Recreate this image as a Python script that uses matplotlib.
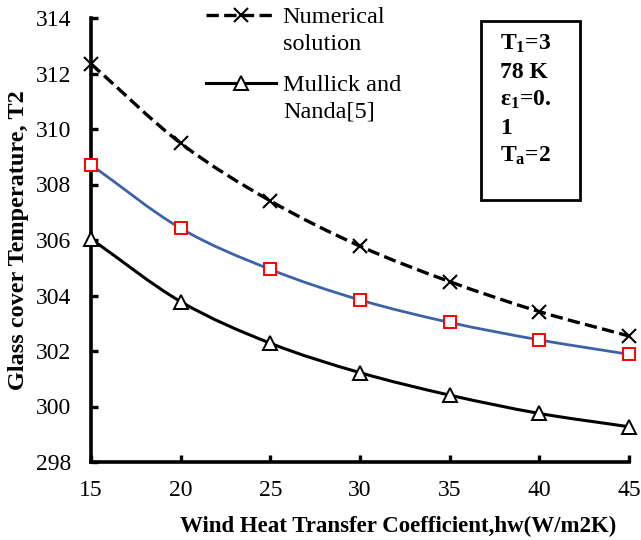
import numpy as np
import matplotlib
matplotlib.use("Agg")
import matplotlib.pyplot as plt
from matplotlib.path import Path
from matplotlib.patches import PathPatch, Rectangle
from matplotlib.lines import Line2D

plt.rcParams['font.family'] = ['Liberation Serif', 'DejaVu Serif']
plt.rcParams['mathtext.fontset'] = 'custom'
plt.rcParams['mathtext.rm'] = 'Liberation Serif'
plt.rcParams['mathtext.bf'] = 'Liberation Serif:bold'
plt.rcParams['mathtext.it'] = 'Liberation Serif:italic'

# Donnees
wind_hw = [15, 20, 25, 30, 35, 40, 45]
t2_numerical = [312.35, 309.49, 307.41, 305.78, 304.50, 303.42, 302.54]
t2_model = [308.71, 306.42, 304.94, 303.84, 303.03, 302.40, 301.88]
t2_mullick = [306.04, 303.78, 302.28, 301.22, 300.41, 299.75, 299.27]

x_ticks = [15, 20, 25, 30, 35, 40, 45]
y_ticks = [298, 300, 302, 304, 306, 308, 310, 312, 314]

# libelles de legende (premiere ligne / suite)
legend_first = ["Numerical", "Mullick and"]
legend_second = ["solution", "Nanda[5]"]
box_lines = [r"T$_{\mathbf{1}}$=3", "78 K", r"ε$_{\mathbf{1}}$=0.", "1", r"T$_{\mathbf{a}}$=2"]


def smooth_path(x, y):
    """Courbe lissee facon Excel (Bezier passant par les points)."""
    pts = np.column_stack([x, y]).astype(float)
    n = len(pts)
    verts = [pts[0]]
    codes = [Path.MOVETO]
    for i in range(n - 1):
        p0 = pts[i - 1] if i > 0 else pts[i]
        p1 = pts[i]
        p2 = pts[i + 1]
        p3 = pts[i + 2] if i + 2 < n else pts[i + 1]
        f0 = 6.0 if i > 0 else 3.0
        f1 = 6.0 if i + 2 < n else 3.0
        c1 = p1 + (p2 - p0) / f0
        c2 = p2 - (p3 - p1) / f1
        verts += [c1, c2, p2]
        codes += [Path.CURVE4] * 3
    return Path(verts, codes)


fig = plt.figure(figsize=(6.41, 5.40), dpi=100)
ax = fig.add_axes([91 / 641, 78 / 540, 538 / 641, 444 / 540])

series = [
    (t2_model, dict(color='#3d62a6', lw=2.0, ls='-'),
     dict(marker='s', ms=8, mfc='white', mec='#ff0000', mew=1.4)),
    (t2_numerical, dict(color='black', lw=2.4, ls='--'),
     dict(marker='x', ms=10, mec='black', mew=1.5)),
    (t2_mullick, dict(color='black', lw=2.2, ls='-'),
     dict(marker='^', ms=10.5, mfc='white', mec='black', mew=1.4)),
]

for ys, line_kw, mark_kw in series:
    patch = PathPatch(smooth_path(wind_hw, ys), fill=False, edgecolor=line_kw['color'],
                      lw=line_kw['lw'], ls=line_kw['ls'], capstyle='butt', zorder=2)
    ax.add_patch(patch)
    ax.plot(wind_hw, ys, ls='none', zorder=3, clip_on=False, **mark_kw)

ax.set_xlim(15, 45)
ax.set_ylim(298, 314)
ax.set_xticks(x_ticks)
ax.set_yticks(y_ticks)
ax.tick_params(direction='in', length=5, width=2.4, labelsize=17)
ax.tick_params(axis='x', pad=13)
ax.tick_params(axis='y', pad=14)

for side in ['top', 'right']:
    ax.spines[side].set_visible(False)
for side in ['left', 'bottom']:
    ax.spines[side].set_linewidth(2.6)

fig.text(398 / 641, 1 - 526 / 540, "Wind Heat Transfer Coefficient,hw(W/m2K)",
         ha='center', va='center', fontsize=16.5, fontweight='bold')
fig.text(19 / 641, 1 - 240 / 540, "Glass cover Temperature, T2",
         ha='center', va='center', rotation=90, fontsize=17.5, fontweight='bold')

# Legende (seulement deux series), symbole aligne sur la premiere ligne
handles = [
    Line2D([], [], color='black', lw=2.4, ls='--', marker='x', ms=10, mew=1.5),
    Line2D([], [], color='black', lw=2.2, ls='-', marker='^', ms=10.5, mfc='white', mew=1.4),
]
fig.legend(handles, legend_first, loc='upper left', bbox_to_anchor=(206 / 641, 1 - 6 / 540),
           frameon=False, fontsize=17.5, handlelength=2.9, handletextpad=0.25,
           labelspacing=1.9, borderpad=0, borderaxespad=0, numpoints=1)
for i, txt in enumerate(legend_second):
    fig.text(283 / 641, 1 - (44 + 68 * i) / 540, txt, ha='left', va='center', fontsize=17.5)

# Encadre des parametres
fig.add_artist(Rectangle((481 / 641, 1 - 200 / 540), 99 / 641, 179 / 540,
                         transform=fig.transFigure, fill=False, lw=2.0, ec='black'))
for i, txt in enumerate(box_lines):
    fig.text(500 / 641, 1 - (44 + 28 * i) / 540, txt, ha='left', va='center',
             fontsize=17, fontweight='bold')

fig.savefig("out.png", dpi=100, facecolor='white')
